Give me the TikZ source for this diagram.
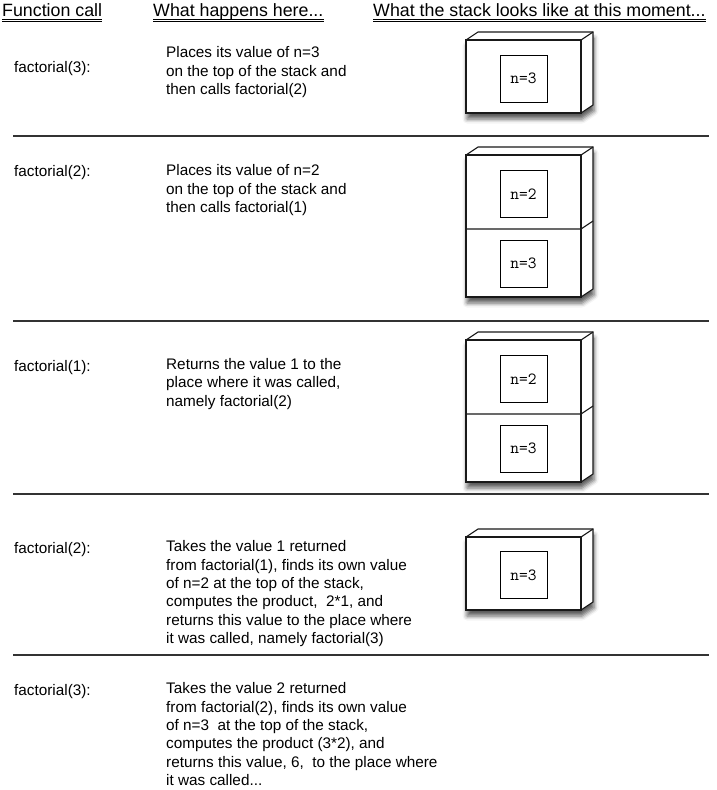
\documentclass[tikz,border=0pt]{standalone}
\usepackage{fontspec}
\setmainfont{Liberation Sans}
\usetikzlibrary{shadows.blur}
\def\stackbox(#1:#2){%
\fill[white, blur shadow={shadow xshift=1pt, shadow yshift=-6pt, shadow blur radius=4.5pt, shadow opacity=65}] (466,#2) -- (466,#1) -- (478,#1-8) -- (593,#1-8) -- (593,#2-8) -- (581,#2) -- cycle;
\draw[edge] (466,#1) rectangle (581,#2);
\draw[edge] (466,#1) -- (478,#1-8) -- (593,#1-8) -- (593,#2-8) -- (581,#2);
\draw[edge] (581,#1) -- (593,#1-8);}
\def\stackjoin(#1){\draw[edge] (466,#1) -- (581,#1) -- (593,#1-8);}

\begin{document}
\begin{tikzpicture}[x=1pt, y=-1pt,
	edge/.style={line width=1.1pt, color=black!90, line join=miter},
	cell/.style={draw, line width=0.8pt, minimum size=47pt, inner sep=0pt, font=\ttfamily\fontsize{17}{19}\selectfont},
	hdr/.style={anchor=base west, inner sep=0pt, font=\fontsize{17.8}{20}\selectfont},
	lbl/.style={anchor=base west, inner sep=0pt, font=\fontsize{15.3}{18.3}\selectfont},
	txt/.style={anchor=north west, inner sep=0pt, align=left, font=\fontsize{15.3}{18.3}\selectfont, execute at begin node=\strut},
	uline/.style={line width=0.8pt},
	sep/.style={line width=1.2pt, color=black!80}]
			%%%%% START %%%%%
			\useasboundingbox (0,0) rectangle (717,790);
			
			\node[hdr] (hcall) at (2,16) {Function call};
			\node[hdr] (hdoes) at (153,16) {What happens here...};
			\node[hdr] (hstack) at (373,16) {What the stack looks like at this moment...};
			\draw[uline] ([yshift=-3pt]hcall.base west) -- ([yshift=-3pt]hcall.base east);
			\draw[uline] ([yshift=-5.4pt]hcall.base west) -- ([yshift=-5.4pt]hcall.base east);
			\draw[uline] ([yshift=-3pt]hdoes.base west) -- ([yshift=-3pt]hdoes.base east);
			\draw[uline] ([yshift=-5.4pt]hdoes.base west) -- ([yshift=-5.4pt]hdoes.base east);
			\draw[uline] ([yshift=-3pt]hstack.base west) -- ([yshift=-3pt]hstack.base east);
			\draw[uline] ([yshift=-5.4pt]hstack.base west) -- ([yshift=-5.4pt]hstack.base east);
			
			% first call
			\node[lbl] (call1) at (14,72.5) {factorial(3):};
			\node[txt] (does1) at (166,46.7) {Places its value of n=3\\on the top of the stack and\\then calls factorial(2)};
			\stackbox(40:113)
			\node[cell] (top1) at (523.5,78.5) {n=3};
			
			\draw[sep] (13,136) -- (709,136);
			
			% second call
			\node[lbl] (call2) at (14,176) {factorial(2):};
			\node[txt] (does2) at (166,164.7) {Places its value of n=2\\on the top of the stack and\\then calls factorial(1)};
			\stackbox(155:297)
			\stackjoin(229)
			\node[cell] (top2) at (523.5,194) {n=2};
			\node[cell] (low2) at (523.5,263.5) {n=3};
			
			\draw[sep] (13,321) -- (709,321);
			
			% third call
			\node[lbl] (call3) at (14,371.5) {factorial(1):};
			\node[txt] (does3) at (166,358.2) {Returns the value 1 to the\\place where it was called,\\namely factorial(2)};
			\stackbox(340:482)
			\stackjoin(414)
			\node[cell] (top3) at (523.5,379) {n=2};
			\node[cell] (low3) at (523.5,448.5) {n=3};
			
			\draw[sep] (13,494) -- (709,494);
			
			% back in factorial(2)
			\node[lbl] (call4) at (14,553.5) {factorial(2):};
			\node[txt] (does4) at (166,540.7) {Takes the value 1 returned\\from factorial(1), finds its own value\\of n=2 at the top of the stack,\\computes the product, \ 2*1, and\\returns this value to the place where\\it was called, namely factorial(3)};
			\stackbox(537:610)
			\node[cell] (top4) at (523.5,575) {n=3};
			
			\draw[sep] (13,655) -- (709,655);
			
			% back in factorial(3)
			\node[lbl] (call5) at (14,695.5) {factorial(3):};
			\node[txt] (does5) at (166,682.7) {Takes the value 2 returned\\from factorial(2), finds its own value\\of n=3 \ at the top of the stack,\\computes the product (3*2), and\\returns this value, 6, \ to the place where\\it was called...};
			
			%%%%% END %%%%%
\end{tikzpicture}
\end{document}
